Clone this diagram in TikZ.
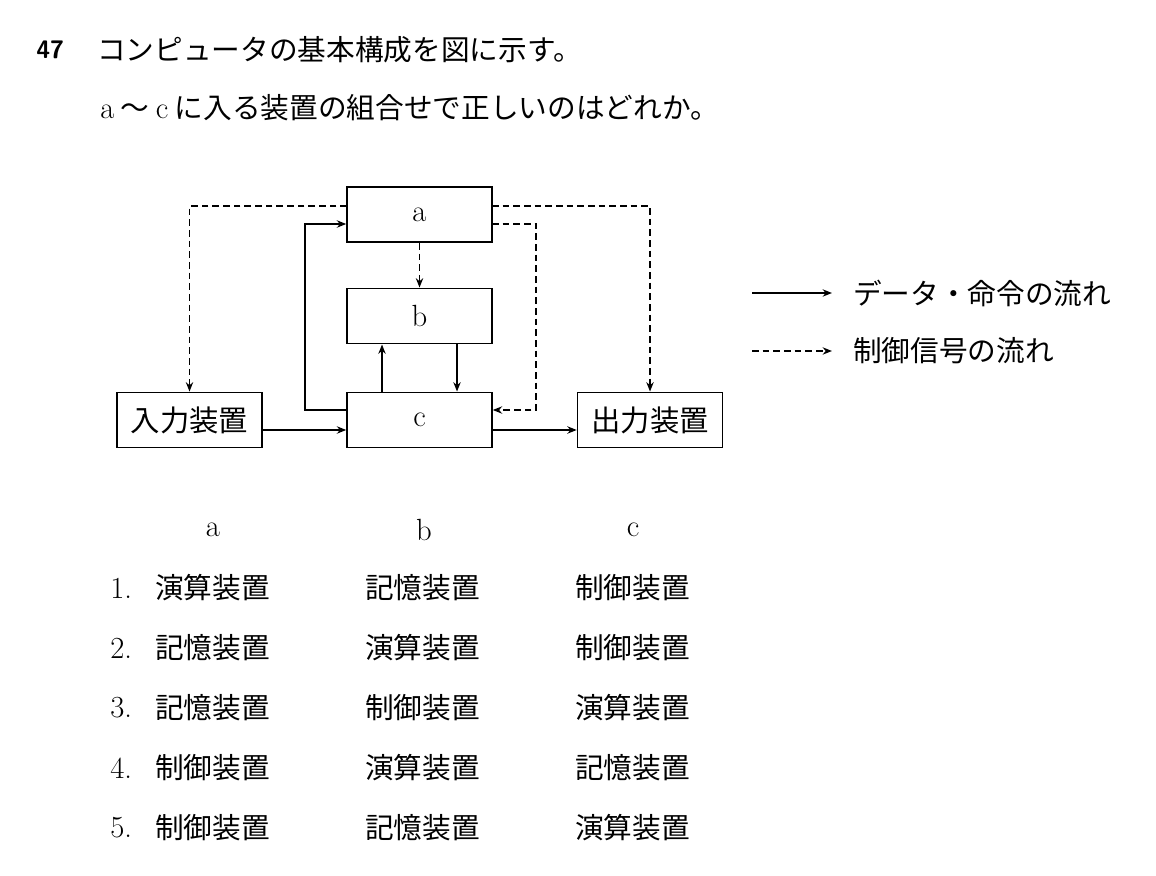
\documentclass[tikz,border=0pt]{standalone}
\usepackage{fontspec}
\newfontfamily\cjk{Noto Sans CJK JP}
\usetikzlibrary{arrows.meta}
\begin{document}
\begin{tikzpicture}[x=0.75pt,y=-0.75pt,
  box/.style={draw,line width=1.2pt,minimum width=108.75pt,minimum height=41.5pt,inner sep=0pt,font=\fontsize{22}{24}\selectfont\cjk},
  sol/.style={line width=1.2pt,-{Stealth[length=7pt,width=5.5pt]}},
  dsh/.style={sol,dash pattern=on 5pt off 3pt},
  txt/.style={anchor=west,inner sep=0pt,font=\fontsize{21.5}{24}\selectfont\cjk},
  lat/.style={inner sep=0pt,font=\fontsize{23}{25}\selectfont}]
\useasboundingbox (0,0) rectangle (1156,875);
\node[txt,font=\fontsize{19}{22}\selectfont\sffamily\bfseries] (n) at (36,50) {47};
\node[txt] (q1) at (97,50) {コンピュータの基本構成を図に示す。};
\node[txt] (q2) at (100,108) {{\rmfamily\fontsize{23}{25}\selectfont a} ～ {\rmfamily\fontsize{23}{25}\selectfont c} に入る装置の組合せで正しいのはどれか。};
\node[box] (a) at (419.5,214.5) {\rmfamily\fontsize{23}{25}\selectfont a};
\node[box] (b) at (419.5,316) {\rmfamily\fontsize{23}{25}\selectfont b};
\node[box] (c) at (419.5,420) {\rmfamily\fontsize{23}{25}\selectfont c};
\node[box] (in) at (189.5,420) {入力装置};
\node[box] (out) at (650,420) {出力装置};
\coordinate (a1) at (347,206);
\coordinate (a2) at (492,206);
\coordinate (a3) at (492,224);
\draw[dsh] (a1) -| (in.north);
\draw[dsh] (a2) -| (out.north);
\draw[dsh] (a3) -- (536,224) |- (c.east |- 0,410);
\draw[dsh] (a.south) -- (b.north);
\draw[sol] (c.west |- 0,410) -- (305,410) |- (a.west |- 0,224);
\draw[sol] (c.north -| 382,0) -- (b.south -| 382,0);
\draw[sol] (b.south -| 457,0) -- (c.north -| 457,0);
\draw[sol] (in.east |- 0,430) -- (c.west |- 0,430);
\draw[sol] (c.east |- 0,430) -- (out.west |- 0,430);
\coordinate (l1) at (752,293); \coordinate (l1e) at (832,293);
\coordinate (l2) at (752,351); \coordinate (l2e) at (832,351);
\draw[sol] (l1) -- (l1e);
\draw[dsh] (l2) -- (l2e);
\node[txt] (t1) at (853,293) {データ・命令の流れ};
\node[txt] (t2) at (853,351) {制御信号の流れ};
\node[lat] (ha) at (213,530) {a};
\node[lat] (hb) at (424,530) {b};
\node[lat] (hc) at (633,530) {c};
\foreach \i/\x/\y/\z in {1/演算装置/記憶装置/制御装置,2/記憶装置/演算装置/制御装置,3/記憶装置/制御装置/演算装置,4/制御装置/演算装置/記憶装置,5/制御装置/記憶装置/演算装置}{
  \node[lat,anchor=west] (r\i) at (110,528+60*\i) {\i.};
  \node[txt] (r\i a) at (155,528+60*\i) {\x};
  \node[txt] (r\i b) at (365,528+60*\i) {\y};
  \node[txt] (r\i c) at (575,528+60*\i) {\z};
}
\end{tikzpicture}
\end{document}
